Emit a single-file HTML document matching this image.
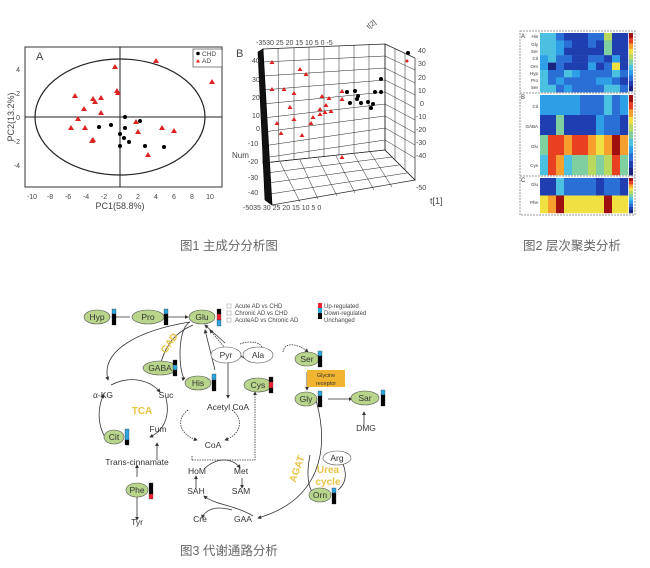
<!DOCTYPE html>
<html><head><meta charset="utf-8"><style>
body{margin:0;background:#fff;width:650px;height:568px;overflow:hidden}
svg{display:block}
text{font-family:"Liberation Sans","Noto Sans CJK SC",sans-serif}
.cap{font-size:12.5px;fill:#666}
</style></head><body>
<svg width="650" height="568" viewBox="0 0 650 568" xmlns="http://www.w3.org/2000/svg">
<!-- Plot A -->
<g font-size="7" fill="#444">
<rect x="25" y="47" width="197" height="140" fill="none" stroke="#333" stroke-width="1"/>
<line x1="120" y1="47" x2="120" y2="187" stroke="#222"/>
<line x1="25" y1="117" x2="222" y2="117" stroke="#222"/>
<ellipse cx="120" cy="117" rx="85" ry="58" fill="none" stroke="#222" stroke-width="1.2"/>
<text x="36" y="60" font-size="11">A</text>
<rect x="193" y="49" width="29" height="18" fill="#fff" stroke="#333" stroke-width="0.6"/>
<circle cx="198" cy="53.5" r="1.8" fill="#000"/><text x="202" y="56" font-size="6.5">CHD</text>
<polygon points="198,59 200,62.5 196,62.5" fill="#d22"/><text x="202" y="63" font-size="6.5">AD</text>
<g text-anchor="middle">
<text x="32" y="199">-10</text><text x="50" y="199">-8</text><text x="68" y="199">-6</text><text x="86" y="199">-4</text><text x="104" y="199">-2</text><text x="120" y="199">0</text><text x="138" y="199">2</text><text x="156" y="199">4</text><text x="174" y="199">6</text><text x="192" y="199">8</text><text x="210" y="199">10</text>
<text x="120" y="209" font-size="9">PC1(58.8%)</text>
</g>
<g text-anchor="end"><text x="20" y="72">4</text><text x="20" y="96">2</text><text x="20" y="120">0</text><text x="20" y="144">-2</text><text x="20" y="168">-4</text></g>
<text x="14" y="117" font-size="9" text-anchor="middle" transform="rotate(-90 14 117)">PC2(13.2%)</text>
<g fill="#000">
<circle cx="125" cy="117" r="2"/><circle cx="125" cy="128" r="2"/><circle cx="120" cy="134" r="2"/><circle cx="124" cy="138" r="2"/><circle cx="129" cy="142" r="2"/><circle cx="120" cy="146" r="2"/><circle cx="99" cy="127" r="2"/><circle cx="111" cy="125" r="2"/><circle cx="140" cy="121" r="2"/><circle cx="145" cy="146" r="2"/><circle cx="164" cy="147" r="2"/>
</g>
<g fill="#d22">
<path d="M115,64l3,5h-6z M156,58l3,5h-6z M212,79l3,5h-6z M75,93l3,5h-6z M93,96l3,5h-6z M95,99l3,5h-6z M101,95l3,5h-6z M117,88l3,5h-6z M118,90l3,5h-6z M84,106l3,5h-6z M101,110l3,5h-6z M78,116l3,5h-6z M71,125l3,5h-6z M85,125l3,5h-6z M92,138l3,5h-6z M93,137l3,5h-6z M136,119l3,5h-6z M138,129l3,5h-6z M162,125l3,5h-6z M174,128l3,5h-6z M148,152l3,5h-6z"/>
</g>
</g>
<!-- Plot B 3D -->
<g stroke="#222" stroke-width="0.7" fill="none">
<polygon points="263,49 385,44 385,150 263,163" />
<polygon points="385,44 415,58 415,180 385,150"/>
<polygon points="263,163 385,150 415,180 272,205"/>
<g stroke-width="0.5">
<path d="M263,62 385,56 M263,76 385,68 M263,90 385,80 M263,104 385,92 M263,118 385,104 M263,132 385,116 M263,146 385,128 M263,158 385,140"/>
<path d="M278,48 279,161 M294,48 294,160 M309,47 309,158 M324,47 324,157 M339,46 339,155 M354,45 354,153 M369,45 369,152"/>
<path d="M385,56 415,70 M385,68 415,83 M385,80 415,95 M385,92 415,108 M385,104 415,120 M385,116 415,133 M385,128 415,145 M385,140 415,158 M395,49 395,160 M405,53 405,170"/>
<path d="M266,173 392,157 M268,183 399,165 M270,194 407,173 M280,162 300,202 M300,160 318,199 M318,158 337,196 M336,156 355,193 M354,154 374,190 M370,152 392,187"/>
</g>
<path d="M258,52 263,49 272,205 265,200z" fill="#111" stroke="#000"/>
</g>
<g font-size="7" fill="#444">
<text x="236" y="57" font-size="11">B</text>
<text x="256" y="45">-3530  25  20  15  10   5   0  -5</text>
<text x="382" y="15" transform="rotate(-40 395 40)">t[2]</text>
<text x="252" y="63">40</text><text x="252" y="82">30</text><text x="252" y="100">20</text><text x="252" y="118">10</text><text x="256" y="131">0</text><text x="248" y="146">-10</text>
<text x="232" y="158" font-size="8">Num</text>
<text x="248" y="164">-20</text><text x="248" y="180">-30</text><text x="248" y="195">-40</text>
<text x="243" y="210">-5035   30   25   20   15   10    5    0</text>
<text x="418" y="53">40</text><text x="418" y="66">30</text><text x="418" y="80">20</text><text x="418" y="93">10</text><text x="420" y="106">0</text><text x="416" y="119">-10</text><text x="416" y="132">-20</text><text x="416" y="145">-30</text><text x="416" y="158">-40</text><text x="416" y="190">-50</text>
<text x="430" y="204" font-size="9">t[1]</text>
<g fill="#000"><circle cx="408" cy="53" r="2"/><circle cx="407" cy="61" r="1.5" fill="#d22"/></g>
<g fill="#000">
<circle cx="347" cy="92" r="2"/><circle cx="355" cy="91" r="2"/><circle cx="358" cy="96" r="2"/><circle cx="350" cy="103" r="2"/><circle cx="361" cy="103" r="2"/><circle cx="368" cy="102" r="2"/><circle cx="373" cy="104" r="2"/><circle cx="375" cy="92" r="2"/><circle cx="381" cy="92" r="2"/><circle cx="381" cy="79" r="2"/><circle cx="371" cy="108" r="2"/><circle cx="357" cy="99" r="2"/>
</g>
<g fill="#d22">
<path d="M272,60l2.5,4h-5z M300,67l2.5,4h-5z M306,72l2.5,4h-5z M272,87l2.5,4h-5z M284,87l2.5,4h-5z M294,91l2.5,4h-5z M322,94l2.5,4h-5z M329,96l2.5,4h-5z M342,89l2.5,4h-5z M342,97l2.5,4h-5z M290,105l2.5,4h-5z M320,107l2.5,4h-5z M326,103l2.5,4h-5z M320,112l2.5,4h-5z M325,110l2.5,4h-5z M331,109l2.5,4h-5z M313,115l2.5,4h-5z M294,117l2.5,4h-5z M311,121l2.5,4h-5z M277,121l2.5,4h-5z M281,131l2.5,4h-5z M302,133l2.5,4h-5z M342,155l2.5,4h-5z"/>
</g>
</g>
<!-- Heatmap -->
<g>
<g id="hm"></g>
<rect x="520" y="31" width="115" height="184" fill="none" stroke="#999" stroke-dasharray="2,1"/>
<line x1="520" y1="93" x2="635" y2="93" stroke="#999" stroke-dasharray="2,1"/>
<line x1="520" y1="176" x2="635" y2="176" stroke="#999" stroke-dasharray="2,1"/>
<g font-size="4.5" fill="#333" text-anchor="end">
<text x="538" y="38">His</text><text x="538" y="46">Gly</text><text x="538" y="53">Ser</text><text x="538" y="60">Cit</text><text x="538" y="68">Orn</text><text x="538" y="75">Hyp</text><text x="538" y="82">Pro</text><text x="538" y="89">Ser</text>
<text x="538" y="108">Cit</text><text x="538" y="128">GABA</text><text x="538" y="148">Glu</text><text x="538" y="167">Cys</text>
<text x="538" y="186">Glu</text><text x="538" y="204">Phe</text>
</g>
<g font-size="6" fill="#333"><text x="521" y="38">A</text><text x="521" y="99">B</text><text x="521" y="182">C</text></g>
</g>
<!-- Captions -->
<text class="cap" x="180" y="250">图1 主成分分析图</text>
<text class="cap" x="523" y="250">图2 层次聚类分析</text>
<text class="cap" x="180" y="555">图3 代谢通路分析</text>
<!-- Pathway -->
<g font-size="8.5" fill="#333" stroke-width="0.8">
<defs><marker id="a" markerWidth="5" markerHeight="5" refX="4" refY="2.5" orient="auto"><path d="M0,0L5,2.5L0,5z" fill="#333"/></marker></defs>
<g fill="none" stroke="#333" marker-end="url(#a)">
<path d="M130,317H112"/><path d="M165,317H188"/>
<path d="M190,322C140,330 100,350 108,380"/>
<path d="M193,325C170,335 165,350 160,365"/>
<path d="M190,322C175,330 180,380 185,378"/>
<path d="M225,343L205,325"/>
<path d="M235,360L210,330" stroke-dasharray="1.5,1"/>
<path d="M215,370L205,330"/>
<path d="M111,385C130,375 150,380 160,392"/>
<path d="M166,398C170,415 165,430 150,437"/>
<path d="M105,437C95,420 100,400 104,395"/>
<path d="M157,460V443"/><path d="M137,477V465"/><path d="M137,497V520"/>
<path d="M228,358V398"/>
<path d="M250,362L235,352"/>
<path d="M240,344C250,340 265,342 262,352" stroke-dasharray="1.5,1"/>
<path d="M283,352C285,340 300,345 308,352" stroke-dasharray="1.5,1"/>
<path d="M253,361L232,353"/>
<path d="M188,410C175,420 180,435 197,440" stroke-dasharray="1.5,1"/>
<path d="M232,410C245,420 240,435 225,440" stroke-dasharray="1.5,1"/>
<path d="M192,460V455" stroke-dasharray="1.5,1" marker-end="none"/>
<path d="M192,460H255V392" stroke-dasharray="1.5,1"/>
<path d="M205,468C220,455 235,460 240,468"/>
<path d="M242,478V488"/><path d="M196,488V476"/>
<path d="M253,516C235,505 215,505 204,496"/>
<path d="M232,510C215,505 205,510 202,518"/>
<path d="M316,400C330,450 320,500 258,518"/>
<path d="M307,372V390"/><path d="M328,399H352"/><path d="M364,425V412"/>
<path d="M310,455C305,480 310,495 318,495"/>
<path d="M338,490C350,480 345,465 339,458"/>
</g>
<g fill="#b9d58c" stroke="#555" stroke-width="0.6">
<ellipse cx="97" cy="317" rx="13" ry="7"/><ellipse cx="148" cy="317" rx="16" ry="7"/><ellipse cx="202" cy="317" rx="13" ry="7"/>
<ellipse cx="160" cy="368" rx="17" ry="7"/><ellipse cx="198" cy="383" rx="13" ry="7"/><ellipse cx="258" cy="385" rx="14" ry="7"/>
<ellipse cx="307" cy="359" rx="12" ry="7"/><ellipse cx="306" cy="399" rx="11" ry="7"/><ellipse cx="365" cy="398" rx="14" ry="7"/>
<ellipse cx="114" cy="437" rx="10" ry="7"/><ellipse cx="137" cy="490" rx="11" ry="7"/><ellipse cx="320" cy="495" rx="11" ry="7"/>
</g>
<g fill="#fff" stroke="#555" stroke-width="0.6"><ellipse cx="226" cy="355" rx="15" ry="8"/><ellipse cx="258" cy="355" rx="15" ry="8"/><ellipse cx="337" cy="458" rx="14" ry="7"/></g>
<g text-anchor="middle">
<text x="97" y="320">Hyp</text><text x="148" y="320">Pro</text><text x="202" y="320">Glu</text><text x="160" y="371">GABA</text><text x="198" y="386">His</text><text x="258" y="388">Cys</text>
<text x="307" y="362">Ser</text><text x="306" y="402">Gly</text><text x="365" y="401">Sar</text><text x="114" y="440">Cit</text><text x="137" y="493">Phe</text><text x="320" y="498">Orn</text>
<text x="226" y="358">Pyr</text><text x="258" y="358">Ala</text><text x="337" y="461">Arg</text>
<text x="103" y="398">α-KG</text><text x="166" y="398">Suc</text><text x="158" y="432">Fum</text><text x="137" y="465">Trans-cinnamate</text><text x="137" y="525">Tyr</text>
<text x="228" y="410">Acetyl CoA</text><text x="213" y="448">CoA</text><text x="366" y="431">DMG</text>
<text x="197" y="474">HoM</text><text x="241" y="474">Met</text><text x="196" y="494">SAH</text><text x="241" y="494">SAM</text><text x="200" y="522">Cre</text><text x="243" y="522">GAA</text>
</g>
<g fill="#e8c347" font-weight="bold" text-anchor="middle"><text x="142" y="414" font-size="10">TCA</text><text x="328" y="473" font-size="10">Urea</text><text x="328" y="485" font-size="10">cycle</text>
<text x="172" y="345" font-size="10" transform="rotate(-55 172 345)">GAD</text><text x="300" y="470" font-size="10" transform="rotate(-70 300 470)">AGAT</text></g>
<rect x="307" y="370" width="38" height="17" fill="#f0b430"/><text x="326" y="377" font-size="5.5" text-anchor="middle" fill="#333">Glycine</text><text x="326" y="385" font-size="5.5" text-anchor="middle" fill="#333">receptor</text>
<g stroke="#222" stroke-width="0.3">
<rect x="112" y="309" width="4" height="5" fill="#2ea5dd"/><rect x="112" y="314" width="4" height="11" fill="#000"/>
<rect x="164" y="309" width="4" height="5" fill="#2ea5dd"/><rect x="164" y="314" width="4" height="11" fill="#000"/>
<rect x="217" y="309" width="4" height="5" fill="#000"/><rect x="217" y="314" width="4" height="6" fill="#e23"/><rect x="217" y="320" width="4" height="6" fill="#2ea5dd"/>
<rect x="173" y="360" width="4" height="5" fill="#000"/><rect x="173" y="365" width="4" height="5" fill="#2ea5dd"/><rect x="173" y="370" width="4" height="6" fill="#000"/>
<rect x="212" y="374" width="4" height="6" fill="#2ea5dd"/><rect x="212" y="380" width="4" height="11" fill="#000"/>
<rect x="269" y="377" width="4" height="5" fill="#000"/><rect x="269" y="382" width="4" height="6" fill="#e23"/><rect x="269" y="388" width="4" height="5" fill="#000"/>
<rect x="318" y="351" width="4" height="5" fill="#2ea5dd"/><rect x="318" y="356" width="4" height="11" fill="#000"/>
<rect x="318" y="391" width="4" height="5" fill="#2ea5dd"/><rect x="318" y="396" width="4" height="11" fill="#000"/>
<rect x="381" y="390" width="4" height="5" fill="#2ea5dd"/><rect x="381" y="395" width="4" height="11" fill="#000"/>
<rect x="125" y="429" width="4" height="11" fill="#2ea5dd"/><rect x="125" y="440" width="4" height="5" fill="#000"/>
<rect x="149" y="483" width="4" height="11" fill="#000"/><rect x="149" y="494" width="4" height="5" fill="#e23"/>
<rect x="332" y="488" width="4" height="5" fill="#2ea5dd"/><rect x="332" y="493" width="4" height="11" fill="#000"/>
</g>
<g font-size="6" fill="#444">
<rect x="227" y="304" width="4" height="4" fill="none" stroke="#bbb"/><text x="235" y="308">Acute AD vs CHD</text>
<rect x="227" y="311" width="4" height="4" fill="none" stroke="#bbb"/><text x="235" y="315">Chronic AD vs CHD</text>
<rect x="227" y="318" width="4" height="4" fill="none" stroke="#bbb"/><text x="235" y="322">AcuteAD vs Chronic AD</text>
<rect x="318" y="303" width="4" height="5" fill="#e23"/><text x="324" y="308">Up-regulated</text>
<rect x="318" y="308" width="4" height="5" fill="#2ea5dd"/><text x="324" y="315">Down-regulated</text>
<rect x="318" y="313" width="4" height="6" fill="#000"/><text x="324" y="322">Unchanged</text>
</g>
</g>
</svg>
<script>
(function(){
var NS="http://www.w3.org/2000/svg";
var jet=["#1a237e","#1f3fb0","#2a6fd6","#2e9ee6","#4cc0e0","#7fcfa0","#b8d860","#f0e040","#f7a030","#e84020","#a01010"];
var g=document.getElementById("hm");
function R(x,y,w,h,f){var r=document.createElementNS(NS,"rect");r.setAttribute("x",x);r.setAttribute("y",y);r.setAttribute("width",w);r.setAttribute("height",h);r.setAttribute("fill",f);g.appendChild(r);}
function panel(y0,h,rows){for(var r=0;r<rows.length;r++){for(var c=0;c<11;c++){var v=parseInt(rows[r].charAt(c),16);if(isNaN(v))v=3;R(540+c*8,y0+r*h,8.2,h+0.2,jet[Math.min(v,10)]);}}}
panel(33,7.4,["44211122611","44321121511","44311111511","34221122131","30211131271","42243222242","42322223321","44232222442"]);
panel(95,20,["33333222423","11511113221","599899878a8","49845565695"]);
panel(178,17.5,["11422221221","78a77777a77"]);
for(var i=0;i<11;i++){R(629,33+i*5.3,4,5.4,jet[10-i]);R(629,95+i*7.3,4,7.4,jet[10-i]);R(629,178+i*3.2,4,3.3,jet[10-i]);}
})();
</script>
</body></html>
